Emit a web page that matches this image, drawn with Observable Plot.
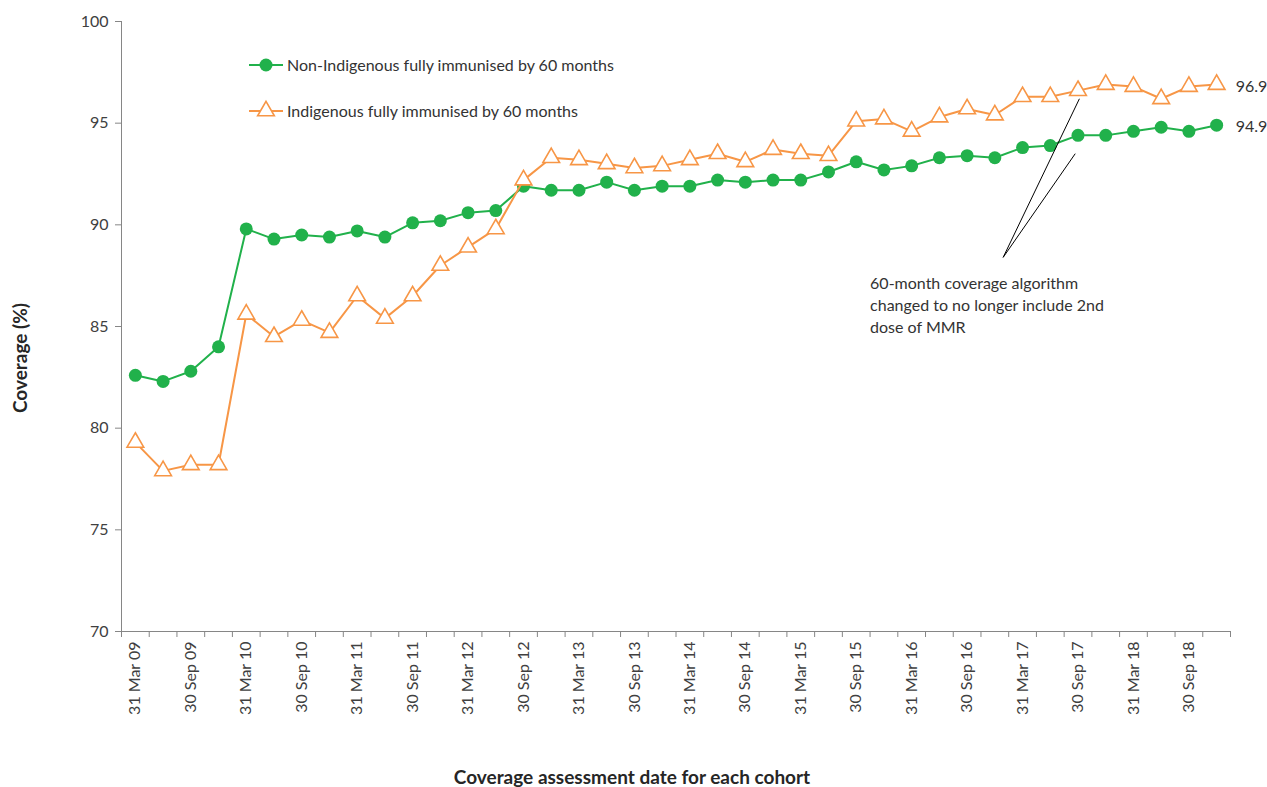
<!DOCTYPE html>
<html>
<head>
<meta charset="utf-8">
<script src="https://cdn.jsdelivr.net/npm/d3@7"></script>
<script src="https://cdn.jsdelivr.net/npm/@observablehq/plot@0.6"></script>
<style>
  body { margin: 0; background: #ffffff; }
  #chart svg { font-family: Lato, "Open Sans", sans-serif; background: #ffffff; }
</style>
</head>
<body>
<div id="chart"></div>
<script>
// ---- Data ----
const categories = [
  "31 Mar 09","30 Jun 09","30 Sep 09","31 Dec 09",
  "31 Mar 10","30 Jun 10","30 Sep 10","31 Dec 10",
  "31 Mar 11","30 Jun 11","30 Sep 11","31 Dec 11",
  "31 Mar 12","30 Jun 12","30 Sep 12","31 Dec 12",
  "31 Mar 13","30 Jun 13","30 Sep 13","31 Dec 13",
  "31 Mar 14","30 Jun 14","30 Sep 14","31 Dec 14",
  "31 Mar 15","30 Jun 15","30 Sep 15","31 Dec 15",
  "31 Mar 16","30 Jun 16","30 Sep 16","31 Dec 16",
  "31 Mar 17","30 Jun 17","30 Sep 17","31 Dec 17",
  "31 Mar 18","30 Jun 18","30 Sep 18","31 Dec 18"
];
const nonIndigenous = [
  82.6, 82.3, 82.8, 84.0,
  89.8, 89.3, 89.5, 89.4,
  89.7, 89.4, 90.1, 90.2,
  90.6, 90.7, 91.9, 91.7,
  91.7, 92.1, 91.7, 91.9,
  91.9, 92.2, 92.1, 92.2,
  92.2, 92.6, 93.1, 92.7,
  92.9, 93.3, 93.4, 93.3,
  93.8, 93.9, 94.4, 94.4,
  94.6, 94.8, 94.6, 94.9
];
const indigenous = [
  79.3, 77.9, 78.2, 78.2,
  85.6, 84.5, 85.3, 84.7,
  86.5, 85.4, 86.5, 88.0,
  88.9, 89.8, 92.2, 93.3,
  93.2, 93.0, 92.8, 92.9,
  93.2, 93.5, 93.1, 93.7,
  93.5, 93.4, 95.1, 95.2,
  94.6, 95.3, 95.7, 95.4,
  96.3, 96.3, 96.6, 96.9,
  96.8, 96.2, 96.8, 96.9
];
const seriesNames = [
  "Non-Indigenous fully immunised by 60 months",
  "Indigenous fully immunised by 60 months"
];
const yTicks = [70, 75, 80, 85, 90, 95, 100];
const yTitle = "Coverage (%)";
const xTitle = "Coverage assessment date for each cohort";
const annotationText = "60-month coverage algorithm\nchanged to no longer include 2nd\ndose of MMR";
// annotation anchor/targets in data space (category index, coverage)
const annotationLinks = [
  {x1: 31.3, y1: 88.4, x2: 34.05, y2: 96.2},
  {x1: 31.3, y1: 88.4, x2: 33.9, y2: 93.5}
];
const annotationPos = [{x: 26.5, y: 87.65}];

// ---- Build ----
const green = "#21b14b";
const orange = "#f79646";
const axisGray = "#868686";
const labelGray = "#404040";

const nonData = nonIndigenous.map((v, i) => ({i, v}));
const indData = indigenous.map((v, i) => ({i, v}));
const last = categories.length - 1;

const W = 1267, H = 787;
const chart = Plot.plot({
  width: W,
  height: H,
  marginLeft: 121,
  marginRight: 37,
  marginTop: 21,
  marginBottom: 156,
  x: {type: "linear", domain: [-0.5, categories.length - 0.5]},
  y: {domain: [70, 100]},
  marks: [
    Plot.ruleX([-0.5], {stroke: axisGray, strokeWidth: 1}),
    Plot.ruleY([70], {stroke: axisGray, strokeWidth: 1}),
    Plot.axisY({ticks: yTicks, tickSize: 6, tickPadding: 7, stroke: axisGray, fill: labelGray, fontSize: 16, label: null}),
    Plot.axisX({ticks: d3.range(-0.5, categories.length, 1), tickSize: 6, tickFormat: () => "", stroke: axisGray, label: null}),
    Plot.axisX({ticks: d3.range(0, categories.length, 2), tickSize: 0, tickPadding: 10, tickRotate: -90,
      tickFormat: i => categories[i], fill: labelGray, fontSize: 16, label: null}),
    Plot.line(nonData, {x: "i", y: "v", stroke: green, strokeWidth: 2}),
    Plot.dot(nonData, {x: "i", y: "v", r: 6.5, fill: green, stroke: "none"}),
    Plot.line(indData, {x: "i", y: "v", stroke: orange, strokeWidth: 2}),
    Plot.dot(indData, {x: "i", y: "v", symbol: "triangle", r: 6.2, fill: "#ffffff", stroke: orange, strokeWidth: 1.6}),
    Plot.text([indData[last]], {x: "i", y: "v", text: d => d.v.toFixed(1), dx: 19, dy: 2, textAnchor: "start", fontSize: 16, fill: "#333333"}),
    Plot.text([nonData[last]], {x: "i", y: "v", text: d => d.v.toFixed(1), dx: 19, dy: 2, textAnchor: "start", fontSize: 16, fill: "#333333"}),
    Plot.link(annotationLinks, {x1: "x1", y1: "y1", x2: "x2", y2: "y2", stroke: "#000000", strokeWidth: 1}),
    Plot.text(annotationPos, {x: "x", y: "y", text: () => annotationText, textAnchor: "start", lineAnchor: "top", lineHeight: 1.4, fontSize: 16, fill: "#333333"})
  ]
});

document.getElementById("chart").appendChild(chart);

// ---- Legend and titles ----
const svg = d3.select(chart);
const legendRows = [
  {name: seriesNames[0], color: green, sym: "circle", y: 65},
  {name: seriesNames[1], color: orange, sym: "triangle", y: 111}
];
const lg = svg.append("g").attr("aria-label", "legend");
legendRows.forEach(row => {
  lg.append("line").attr("x1", 249).attr("x2", 283).attr("y1", row.y).attr("y2", row.y)
    .attr("stroke", row.color).attr("stroke-width", 2);
  if (row.sym === "circle") {
    lg.append("circle").attr("cx", 266).attr("cy", row.y).attr("r", 6.5).attr("fill", row.color).attr("stroke", "none");
  } else {
    lg.append("path").attr("transform", `translate(266,${row.y})`)
      .attr("d", d3.symbol(d3.symbolTriangle, Math.PI * 6.2 * 6.2)())
      .attr("fill", "#ffffff").attr("stroke", row.color).attr("stroke-width", 1.6);
  }
  lg.append("text").attr("x", 287).attr("y", row.y).attr("dy", "0.35em")
    .attr("text-anchor", "start")
    .attr("font-size", 16).attr("fill", "#333333").text(row.name);
});

svg.append("text").attr("transform", "translate(20,358) rotate(-90)")
  .attr("text-anchor", "middle").attr("dy", "0.35em")
  .attr("font-size", 19).attr("font-weight", "bold").attr("fill", "#262626").text(yTitle);
svg.append("text").attr("x", 632).attr("y", 777).attr("dy", "0.35em")
  .attr("text-anchor", "middle")
  .attr("font-size", 19).attr("font-weight", "bold").attr("fill", "#262626").text(xTitle);
</script>
</body>
</html>
